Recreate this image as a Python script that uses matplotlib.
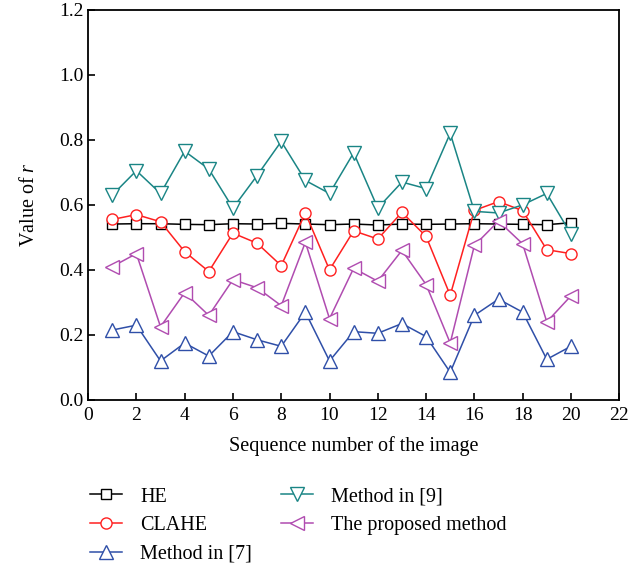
import matplotlib
matplotlib.use("Agg")
import matplotlib.pyplot as plt

plt.rcParams['font.family'] = ['Liberation Serif', 'DejaVu Serif']
plt.rcParams['mathtext.fontset'] = 'custom'
plt.rcParams['mathtext.it'] = 'Liberation Serif:italic'
plt.rcParams['mathtext.rm'] = 'Liberation Serif'

x = list(range(1, 21))
he = [0.541, 0.542, 0.542, 0.540, 0.539, 0.542, 0.541, 0.543, 0.541, 0.539,
      0.541, 0.538, 0.541, 0.540, 0.541, 0.542, 0.541, 0.540, 0.539, 0.545]
clahe = [0.555, 0.570, 0.548, 0.456, 0.395, 0.513, 0.482, 0.413, 0.575, 0.400,
         0.520, 0.495, 0.577, 0.503, 0.322, 0.583, 0.610, 0.582, 0.462, 0.450]
m7 = [0.215, 0.230, 0.120, 0.175, 0.135, 0.210, 0.185, 0.165, 0.270, 0.120,
      0.210, 0.205, 0.235, 0.195, 0.085, 0.260, 0.310, 0.270, 0.125, 0.165]
m9 = [0.630, 0.705, 0.635, 0.765, 0.710, 0.590, 0.690, 0.795, 0.675, 0.635,
      0.760, 0.590, 0.670, 0.650, 0.820, 0.580, 0.575, 0.600, 0.635, 0.510]
proposed = [0.410, 0.450, 0.225, 0.330, 0.260, 0.370, 0.345, 0.290, 0.485, 0.250,
            0.405, 0.365, 0.460, 0.355, 0.175, 0.475, 0.550, 0.480, 0.240, 0.320]

fig = plt.figure(figsize=(6.43, 5.73), dpi=100)
ax = fig.add_axes([0.137, 0.302, 0.826, 0.681])

ax.plot(x, he, color='black', marker='s', ms=7, mfc='white', lw=1.1, label='HE')
ax.plot(x, clahe, color='#ff2020', marker='o', ms=8, mfc='white', lw=1.1, label='CLAHE')
ax.plot(x, m7, color='#2f4fa8', marker='^', ms=10, mfc='white', lw=1.1, label='Method in [7]')
ax.plot(x, m9, color='#1a8585', marker='v', ms=10, mfc='white', lw=1.1, label='Method in [9]')
ax.plot(x, proposed, color='#b04cb0', marker='<', ms=10, mfc='white', lw=1.1, label='The proposed method')

ax.set_xlim(0, 22)
ax.set_ylim(0, 1.2)
ax.set_xticks(range(0, 23, 2))
ax.set_yticks([0.0, 0.2, 0.4, 0.6, 0.8, 1.0, 1.2])
ax.set_yticklabels(['0.0', '0.2', '0.4', '0.6', '0.8', '1.0', '1.2'])
ax.tick_params(direction='in', top=False, right=False, labelsize=14, length=5, width=1.2)
ax.tick_params(axis='x', pad=5)
for s in ax.spines.values():
    s.set_linewidth(1.3)
ax.set_xlabel('Sequence number of the image', fontsize=14.5, labelpad=9)
ax.set_ylabel('Value of $r$', fontsize=14.5, labelpad=14)

# legend sits below the axes, two columns
fig.legend(loc='upper left', bbox_to_anchor=(0.112, 0.181), ncol=2, frameon=False,
           fontsize=14.5, columnspacing=1.4, handlelength=1.6, handletextpad=0.9,
           labelspacing=0.47)

fig.savefig('out.png', dpi=100)
